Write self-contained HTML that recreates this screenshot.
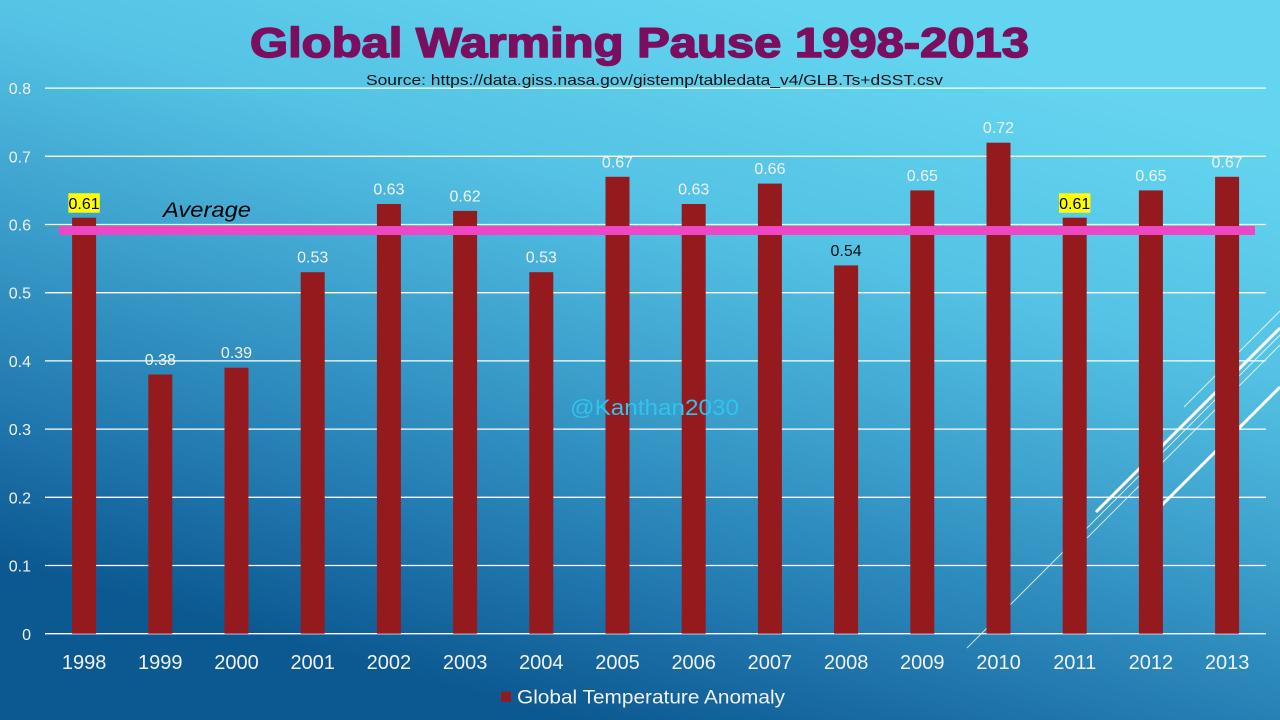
<!DOCTYPE html>
<html>
<head>
<meta charset="utf-8">
<style>
html,body{margin:0;padding:0;width:1280px;height:720px;overflow:hidden;}
svg{display:block;}
text{font-family:"Liberation Sans",Arial,sans-serif;}
</style>
</head>
<body>
<svg width="1280" height="720" viewBox="0 0 1280 720" xmlns="http://www.w3.org/2000/svg">
<defs>
<linearGradient id="bg" gradientUnits="userSpaceOnUse" x1="760" y1="0" x2="560" y2="720">
<stop offset="0" stop-color="#63d5f0"/>
<stop offset="0.3" stop-color="#54c2e4"/>
<stop offset="0.55" stop-color="#3b9ecb"/>
<stop offset="0.8" stop-color="#2178ae"/>
<stop offset="1" stop-color="#0c5891"/>
</linearGradient>
<clipPath id="clipTop"><rect x="0" y="157" width="1280" height="600"/></clipPath>
</defs>
<rect x="0" y="0" width="1280" height="720" fill="url(#bg)"/>

<!-- decorative lines -->
<g stroke="#ffffff" fill="none">
<line x1="967" y1="648" x2="1280" y2="335" stroke-width="1" opacity="0.75"/>
<line x1="1087" y1="538" x2="1280" y2="345" stroke-width="1" opacity="0.75"/>
<line x1="1184" y1="407" x2="1280" y2="311" stroke-width="1" opacity="0.75"/>
<line x1="1096" y1="512" x2="1280" y2="328" stroke-width="3"/>
<line x1="1150" y1="517" x2="1280" y2="387" stroke-width="3"/>
</g>

<!-- gridlines -->
<g stroke="#ffffff" stroke-width="1.3">
<line x1="45" y1="633.7" x2="1266" y2="633.7"/>
<line x1="45" y1="565.5" x2="1266" y2="565.5"/>
<line x1="45" y1="497.3" x2="1266" y2="497.3"/>
<line x1="45" y1="429.1" x2="1266" y2="429.1"/>
<line x1="45" y1="360.9" x2="1266" y2="360.9"/>
<line x1="45" y1="292.7" x2="1266" y2="292.7"/>
<line x1="45" y1="224.5" x2="1266" y2="224.5"/>
<line x1="45" y1="156.3" x2="1266" y2="156.3"/>
<line x1="45" y1="88.1" x2="1266" y2="88.1"/>
</g>

<!-- y labels -->
<g fill="#f2f2f2" font-size="16" text-anchor="end">
<text x="31" y="640">0</text>
<text x="31" y="571.5">0.1</text>
<text x="31" y="503.3">0.2</text>
<text x="31" y="435.1">0.3</text>
<text x="31" y="366.9">0.4</text>
<text x="31" y="298.7">0.5</text>
<text x="31" y="230.5">0.6</text>
<text x="31" y="162.3">0.7</text>
<text x="31" y="94.1">0.8</text>
</g>

<!-- bars -->
<g fill="#951a1d">
<rect x="72.1" y="217.7" width="24" height="416"/>
<rect x="148.3" y="374.5" width="24" height="259.2"/>
<rect x="224.5" y="367.7" width="24" height="266"/>
<rect x="300.7" y="272.2" width="24" height="361.5"/>
<rect x="376.9" y="204.0" width="24" height="429.7"/>
<rect x="453.1" y="210.9" width="24" height="422.8"/>
<rect x="529.3" y="272.2" width="24" height="361.5"/>
<rect x="605.5" y="176.8" width="24" height="456.9"/>
<rect x="681.7" y="204.0" width="24" height="429.7"/>
<rect x="757.9" y="183.6" width="24" height="450.1"/>
<rect x="834.1" y="265.4" width="24" height="368.3"/>
<rect x="910.3" y="190.4" width="24" height="443.3"/>
<rect x="986.5" y="142.7" width="24" height="491"/>
<rect x="1062.7" y="217.7" width="24" height="416"/>
<rect x="1138.9" y="190.4" width="24" height="443.3"/>
<rect x="1215.1" y="176.8" width="24" height="456.9"/>
</g>

<!-- watermark (on top of bars) -->
<text x="570" y="415" font-size="22" fill="#2fc4ec" textLength="169" lengthAdjust="spacingAndGlyphs">@Kanthan2030</text>

<!-- average line -->
<rect x="59" y="226" width="1196" height="9" fill="#ee47c6"/>
<text x="163" y="217" font-size="21" font-style="italic" fill="#000000" textLength="88" lengthAdjust="spacingAndGlyphs">Average</text>

<!-- data labels -->
<rect x="68.4" y="193.3" width="31.4" height="19.4" fill="#ffff00"/>
<rect x="1059" y="193.3" width="31.4" height="19.4" fill="#ffff00"/>
<g font-size="16" text-anchor="middle" fill="#f2f2f2">
<text x="84.1" y="209" fill="#000000">0.61</text>
<text x="160.3" y="365">0.38</text>
<text x="236.5" y="358.2">0.39</text>
<text x="312.7" y="262.7">0.53</text>
<text x="388.9" y="194.5">0.63</text>
<text x="465.1" y="201.4">0.62</text>
<text x="541.3" y="262.7">0.53</text>
<text x="617.5" y="167.3" clip-path="url(#clipTop)">0.67</text>
<text x="693.7" y="194.5">0.63</text>
<text x="769.9" y="174.1">0.66</text>
<text x="846.1" y="255.9" fill="#111111">0.54</text>
<text x="922.3" y="180.9">0.65</text>
<text x="998.5" y="133.2">0.72</text>
<text x="1074.7" y="209" fill="#000000">0.61</text>
<text x="1150.9" y="180.9">0.65</text>
<text x="1227.1" y="167.3" clip-path="url(#clipTop)">0.67</text>
</g>

<!-- x labels -->
<g font-size="20" text-anchor="middle" fill="#f2f2f2">
<text x="84.1" y="669">1998</text>
<text x="160.3" y="669">1999</text>
<text x="236.5" y="669">2000</text>
<text x="312.7" y="669">2001</text>
<text x="388.9" y="669">2002</text>
<text x="465.1" y="669">2003</text>
<text x="541.3" y="669">2004</text>
<text x="617.5" y="669">2005</text>
<text x="693.7" y="669">2006</text>
<text x="769.9" y="669">2007</text>
<text x="846.1" y="669">2008</text>
<text x="922.3" y="669">2009</text>
<text x="998.5" y="669">2010</text>
<text x="1074.7" y="669">2011</text>
<text x="1150.9" y="669">2012</text>
<text x="1227.1" y="669">2013</text>
</g>

<!-- legend -->
<rect x="501" y="691.7" width="10" height="10" fill="#951a1d"/>
<text x="517" y="703.3" font-size="19" fill="#f2f2f2" textLength="268" lengthAdjust="spacingAndGlyphs">Global Temperature Anomaly</text>

<!-- title -->
<text x="250" y="57" font-size="42" font-weight="bold" fill="#7c0e5f" stroke="#7c0e5f" stroke-width="1.6" stroke-linejoin="round" textLength="779" lengthAdjust="spacingAndGlyphs">Global Warming Pause 1998-2013</text>
<text x="366" y="85" font-size="15" fill="#111111" textLength="577" lengthAdjust="spacingAndGlyphs">Source: https://data.giss.nasa.gov/gistemp/tabledata_v4/GLB.Ts+dSST.csv</text>
</svg>
</body>
</html>
